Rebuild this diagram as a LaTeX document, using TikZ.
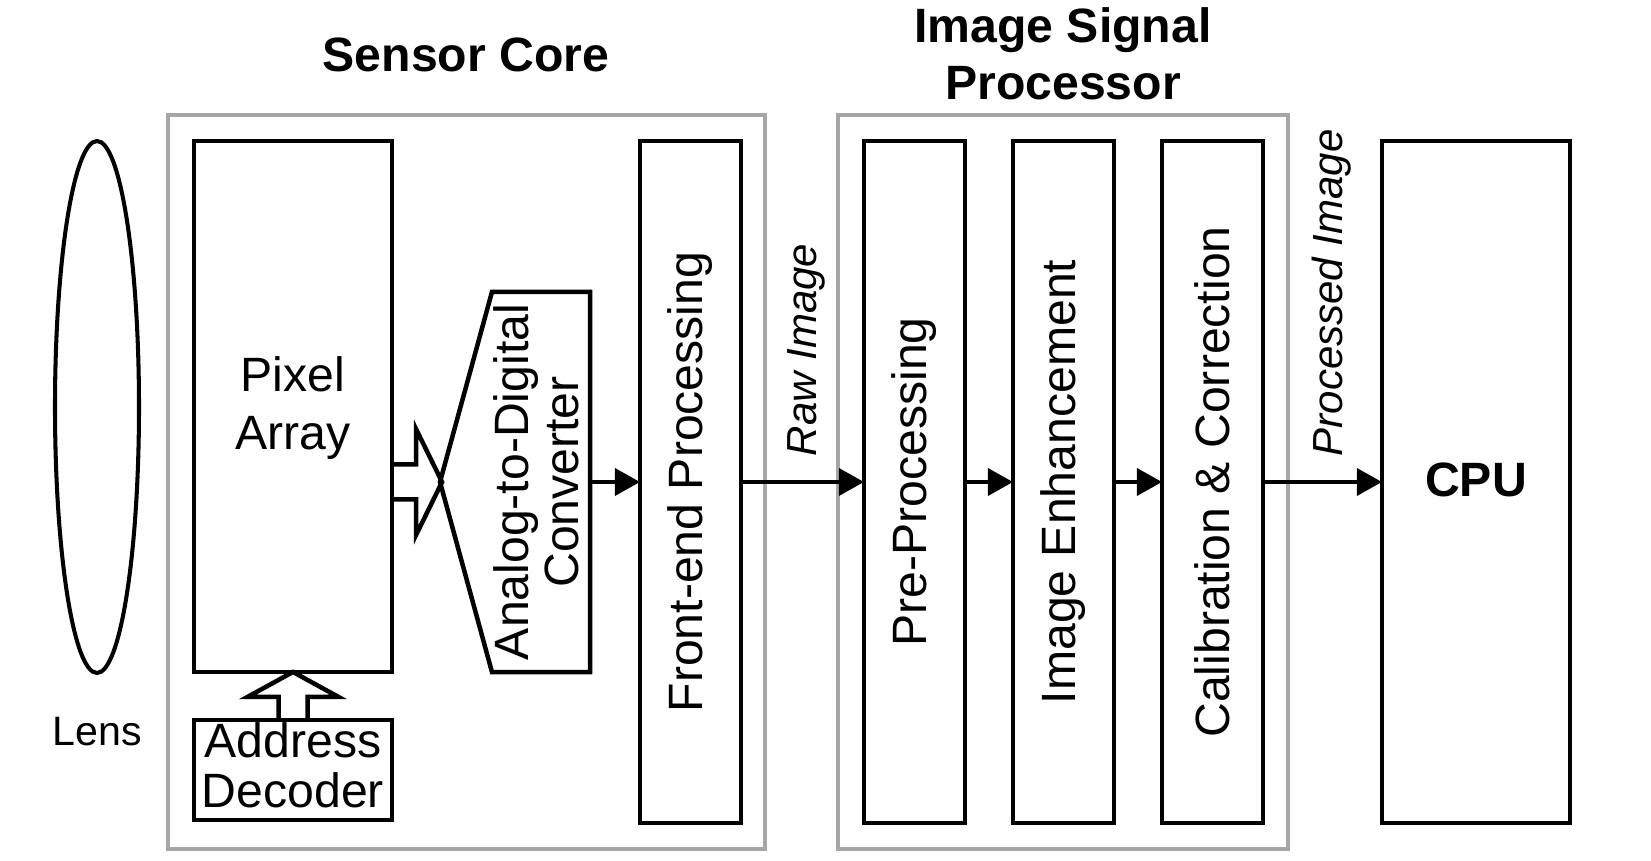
\documentclass[tikz,border=0pt]{standalone}
\usepackage{fontspec}
\setmainfont{Liberation Sans}
\usetikzlibrary{arrows.meta}
\definecolor{boxgray}{RGB}{166,166,166}
\begin{document}
\begin{tikzpicture}[x=0.01cm,y=-0.01cm,
  blk/.style={draw=black, line width=1.28pt, inner sep=0pt, outer sep=0pt},
  grp/.style={draw=boxgray, line width=1.2pt},
  txt/.style={inner sep=0pt, font=\fontsize{13.7pt}{14pt}\selectfont},
  vtxt/.style={txt, rotate=90},
  ttl/.style={inner sep=0pt, anchor=base, font=\fontsize{13.7pt}{16pt}\selectfont\bfseries},
  lbl/.style={inner sep=0pt, rotate=90, anchor=west, font=\fontsize{11.95pt}{13pt}\selectfont\itshape},
  conn/.style={line width=1pt, -{Triangle[length=0.25cm,width=0.27cm]}},
  hollow/.style={line width=1.28pt, line join=miter}
]
\useasboundingbox (0,0) rectangle (1651,861);

% group frames
\draw[grp] (168,115) rectangle (765,849);
\draw[grp] (838,115) rectangle (1288,849);

% titles
\node[ttl] (tsc) at (466,72) {Sensor Core};
\node[ttl] (tisp1) at (1063,43) {Image Signal};
\node[ttl] (tisp2) at (1063,100) {Processor};

% lens
\draw[line width=1.15pt] (97,407) ellipse [x radius=42, y radius=266];
\node[inner sep=0pt, anchor=base, font=\fontsize{11.7pt}{13pt}\selectfont] (lens) at (97,745) {Lens};

% pixel array
\node[blk, minimum width=1.98cm, minimum height=5.31cm] (pix) at (293,406.5) {};
\node[txt, anchor=base] (pixt1) at (293,392) {Pixel};
\node[txt, anchor=base] (pixt2) at (293,450) {Array};

% address decoder
\node[blk, minimum width=1.98cm, minimum height=1cm] (addr) at (293,770) {};
\node[txt, anchor=base] (addrt1) at (293,758) {Address};
\node[txt, anchor=base] (addrt2) at (293,807) {Decoder};

% ADC
\node[inner sep=0pt, outer sep=0pt, minimum width=0.98cm, minimum height=3.8cm] (adc) at (541,482) {};
\coordinate (adcv) at (440,482);
\draw[blk] (adc.north west) -- (adc.north east) -- (adc.south east) -- (adc.south west) -- (adcv) -- cycle;
\node[vtxt, anchor=base] (adct1) at (528,482) {Analog-to-Digital};
\node[vtxt, anchor=base] (adct2) at (578,482) {Converter};

% front-end
\node[blk, minimum width=1.01cm, minimum height=6.82cm] (fe) at (690.5,482) {};
\node[vtxt] (fet) at (fe.center) {Front-end Processing};

% ISP blocks
\node[blk, minimum width=1.01cm, minimum height=6.82cm] (pre) at (914.5,482) {};
\node[vtxt] (pret) at (pre.center) {Pre-Processing};
\node[blk, minimum width=1.01cm, minimum height=6.82cm] (ie) at (1063.5,482) {};
\node[vtxt] (iet) at (ie.center) {Image Enhancement};
\node[blk, minimum width=1.01cm, minimum height=6.82cm] (cal) at (1212.5,482) {};
\node[vtxt] (calt) at (cal.center) {Calibration \& Correction};

% CPU
\node[blk, minimum width=1.88cm, minimum height=6.82cm] (cpu) at (1476,482) {};
\node[inner sep=0pt, anchor=base, font=\fontsize{13.7pt}{14pt}\selectfont\bfseries] (cput) at (1476,497) {CPU};

% hollow arrows
\draw[hollow] (pix.east |- adc.center) ++(0,-17.5) -- ++(24,0) -- ++(0,-35.5) -- ++(26,53) -- ++(-26,53) -- ++(0,-35.5) -- ++(-24,0);
\draw[hollow] (addr.north) ++(-14.5,0) -- ++(0,-23) -- ++(-31,0) -- ++(45.5,-25) -- ++(45.5,25) -- ++(-31,0) -- ++(0,23);

% connectors
\draw[conn] (adc.east) -- (fe.west);
\draw[conn] (fe.east) -- (pre.west);
\draw[conn] (pre.east) -- (ie.west);
\draw[conn] (ie.east) -- (cal.west);
\draw[conn] (cal.east) -- (cpu.west);

% labels
\node[lbl] (raw) at (806,457) {Raw Image};
\node[lbl] (proc) at (1332,457) {Processed Image};
\end{tikzpicture}
\end{document}
